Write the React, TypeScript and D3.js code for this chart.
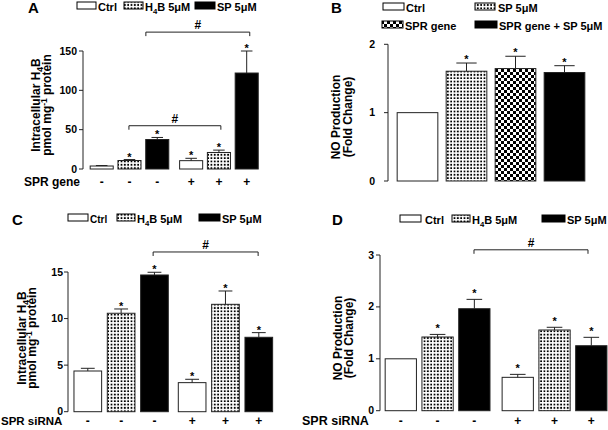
import React from "react";
import * as d3 from "d3";

const FONT = "'Liberation Sans', Arial, Helvetica, sans-serif";

// ---------- DATA ----------
// Panel A: intracellular H4B, SPR gene transfer
const aTreatments = ["Ctrl", "H4B", "SP", "Ctrl", "H4B", "SP"];
const aSprGene = ["-", "-", "-", "+", "+", "+"];
const aValues = [3.8, 10.8, 37.5, 10.6, 21, 122];
const aErrors = [0.6, 1.2, 2.6, 3, 3, 28];
const aStars = [false, true, true, true, true, true];
const aTicks = [0, 50, 100, 150];

// Panel B: NO production, SPR gene
const bTreatments = ["Ctrl", "SP", "SPRgene", "SPRgeneSP"];
const bValues = [1.0, 1.606, 1.645, 1.587];
const bErrors = [0, 0.12, 0.18, 0.1];
const bStars = [false, true, true, true];
const bTicks = [0, 1, 2];

// Panel C: intracellular H4B, SPR siRNA
const cTreatments = ["Ctrl", "H4B", "SP", "Ctrl", "H4B", "SP"];
const cSiRNA = ["-", "-", "-", "+", "+", "+"];
const cValues = [4.37, 10.57, 14.68, 3.12, 11.53, 7.99];
const cErrors = [0.29, 0.46, 0.29, 0.36, 1.43, 0.5];
const cStars = [false, true, true, true, true, true];
const cTicks = [0, 5, 10, 15];

// Panel D: NO production, SPR siRNA
const dTreatments = ["Ctrl", "H4B", "SP", "Ctrl", "H4B", "SP"];
const dSiRNA = ["-", "-", "-", "+", "+", "+"];
const dValues = [1.0, 1.42, 1.965, 0.643, 1.555, 1.252];
const dErrors = [0, 0.05, 0.18, 0.057, 0.052, 0.162];
const dStars = [false, true, true, true, true, true];
const dTicks = [0, 1, 2, 3];

// ---------- STYLE ----------
const FILL: Record<string, string> = {
  Ctrl: "#ffffff",
  SP: "url(#dots)",
  SPRgene: "url(#checker)",
  SPRgeneSP: "#000000",
};
const FILL6: Record<string, string> = {
  Ctrl: "#ffffff",
  H4B: "url(#dots)",
  SP: "#000000",
};

type Bracket = { from: number; to: number; y: number };
type LegendItem = { fill: string; x0: number; x1: number; y: number; label: React.ReactNode; tx: number; fs?: number };

type PanelProps = {
  letter: string;
  letterX: number;
  letterY: number;
  values: number[];
  errors: number[];
  stars: boolean[];
  fills: string[];
  signs?: string[];
  rowLabel?: string;
  rowLabelX?: number;
  rowLabelFs?: number;
  signY?: number;
  yDomain: [number, number];
  yRange: [number, number];
  ticks: number[];
  gap: number;
  xRange: [number, number];
  barFrac: number;
  axisX: number;
  tickGap: number;
  starGap: number;
  brackets: Bracket[];
  yLabel: React.ReactNode[];
  yLabelX: number[];
  yLabelY: number;
  legend: LegendItem[];
};

function Panel(p: PanelProps) {
  const n = p.values.length;
  const slot = (i: number) => i + (n > 4 && i >= 3 ? p.gap : 0);
  const x = d3.scaleLinear().domain([0, slot(n - 1)]).range(p.xRange);
  const y = d3.scaleLinear().domain(p.yDomain).range(p.yRange);
  const bw = p.barFrac * (x(1) - x(0));
  const cap = bw * 0.25;
  const stroke = "#222";
  return (
    <g>
      <text x={p.letterX} y={p.letterY} fontSize={15} fontWeight="bold">{p.letter}</text>
      {p.legend.map((l, i) => (
        <g key={i}>
          <rect x={l.x0} y={l.y} width={l.x1 - l.x0} height={7} fill={l.fill} stroke="#000" strokeWidth={1} />
          <text x={l.tx} y={l.y + 8.5} fontSize={l.fs ?? 11} fontWeight="bold">{l.label}</text>
        </g>
      ))}
      <line x1={p.axisX} x2={p.axisX} y1={y(p.yDomain[0])} y2={y(p.yDomain[1])} stroke={stroke} strokeWidth={1} />
      {p.ticks.map((t) => (
        <g key={t}>
          <line x1={p.axisX - 4} x2={p.axisX} y1={y(t)} y2={y(t)} stroke={stroke} strokeWidth={1} />
          <text x={p.axisX - p.tickGap} y={y(t) + 3.5} fontSize={10.5} fontWeight="bold" textAnchor="end">{t}</text>
        </g>
      ))}
      {p.yLabel.map((lab, i) => (
        <text key={i} transform={`translate(${p.yLabelX[i]},${p.yLabelY}) rotate(-90)`} fontSize={12} fontWeight="bold" textAnchor="middle">{lab}</text>
      ))}
      {p.values.map((v, i) => {
        const cx = x(slot(i));
        const top = y(v);
        const et = y(v + p.errors[i]);
        return (
          <g key={i}>
            <rect x={cx - bw / 2} y={top} width={bw} height={y(0) - top} fill={p.fills[i]} stroke={stroke} strokeWidth={1} />
            {p.errors[i] > 0 && (
              <g>
                <line x1={cx} x2={cx} y1={top} y2={et} stroke={stroke} strokeWidth={1} />
                <line x1={cx - cap} x2={cx + cap} y1={et} y2={et} stroke={stroke} strokeWidth={1} />
              </g>
            )}
            {p.stars[i] && (
              <text x={cx} y={et - p.starGap + 7} fontSize={11} fontWeight="bold" textAnchor="middle">*</text>
            )}
            {p.signs && (
              <text x={cx} y={p.signY} fontSize={12} fontWeight="bold" textAnchor="middle">{p.signs[i]}</text>
            )}
          </g>
        );
      })}
      {p.rowLabel && (
        <text x={p.rowLabelX} y={p.signY} fontSize={p.rowLabelFs ?? 12} fontWeight="bold">{p.rowLabel}</text>
      )}
      {p.brackets.map((b, i) => {
        const x1 = x(b.from);
        const x2 = x(b.to);
        const by = y(b.y);
        return (
          <g key={i}>
            <path d={`M${x1},${by + 4}V${by}H${x2}V${by + 4}`} fill="none" stroke={stroke} strokeWidth={1} />
            <text x={(x1 + x2) / 2} y={by - 3} fontSize={12} fontWeight="bold" textAnchor="middle">#</text>
          </g>
        );
      })}
    </g>
  );
}

const H4B5 = (fs: number) => (
  <>
    H<tspan dy={3} fontSize={fs * 0.7}>4</tspan>
    <tspan dy={-3}>B 5μM</tspan>
  </>
);

const H4Blabel = (
  <>
    Intracellular H<tspan dy={3} fontSize={8.5}>4</tspan>
    <tspan dy={-3}>B</tspan>
  </>
);
const pmolLabel = (
  <>
    pmol mg<tspan dy={-4} fontSize={8.5}>-1</tspan>
    <tspan dy={4}> protein</tspan>
  </>
);

export default function App() {
  return (
    <svg
      width={608}
      height={430}
      style={{ position: "absolute", left: 0, top: 0, background: "#fff" }}
      fontFamily={FONT}
    >
      <defs>
        <pattern id="dots" width={3.33} height={3.33} patternUnits="userSpaceOnUse">
          <rect width={3.33} height={3.33} fill="#fff" />
          <rect x={0.7} y={0.7} width={1.8} height={1.8} fill="#000" />
        </pattern>
        <pattern id="checker" width={6} height={6} patternUnits="userSpaceOnUse">
          <rect width={6} height={6} fill="#fff" />
          <rect width={3} height={3} fill="#000" />
          <rect x={3} y={3} width={3} height={3} fill="#000" />
        </pattern>
      </defs>
      <rect width={608} height={430} fill="#fff" />

      <Panel
        letter="A" letterX={28} letterY={13}
        values={aValues} errors={aErrors} stars={aStars}
        fills={aTreatments.map((t) => FILL6[t])}
        signs={aSprGene} rowLabel="SPR gene" rowLabelX={24} signY={186}
        yDomain={[0, 150]} yRange={[169, 51]} ticks={aTicks}
        gap={0.22} xRange={[101.7, 246.7]} barFrac={0.83}
        axisX={83} tickGap={6} starGap={6}
        brackets={[{ from: 1.59, to: 5.33, y: 174 }, { from: 0.98, to: 4.29, y: 55 }]}
        yLabel={[H4Blabel, pmolLabel]} yLabelX={[39.5, 50.5]} yLabelY={105}
        legend={[
          { fill: "#fff", x0: 77, x1: 96, y: 2, label: "Ctrl", tx: 98 },
          { fill: "url(#dots)", x0: 124, x1: 143, y: 2, label: H4B5(11), tx: 145 },
          { fill: "#000", x0: 195, x1: 215, y: 2, label: "SP 5μM", tx: 217 },
        ]}
      />

      <Panel
        letter="B" letterX={331} letterY={13}
        values={bValues} errors={bErrors} stars={bStars}
        fills={bTreatments.map((t) => FILL[t])}
        yDomain={[0, 2]} yRange={[181, 44.3]} ticks={bTicks}
        gap={0} xRange={[417.5, 564.5]} barFrac={0.83}
        axisX={388} tickGap={13} starGap={7}
        brackets={[]}
        yLabel={["NO Production", "(Fold Change)"]} yLabelX={[340, 352]} yLabelY={117}
        legend={[
          { fill: "#fff", x0: 383, x1: 404, y: 3, label: "Ctrl", tx: 406 },
          { fill: "url(#dots)", x0: 475, x1: 495, y: 3, label: "SP 5μM", tx: 498 },
          { fill: "url(#checker)", x0: 382, x1: 403, y: 21, label: "SPR gene", tx: 405 },
          { fill: "#000", x0: 475, x1: 497, y: 21, label: "SPR gene + SP 5μM", tx: 499 },
        ]}
      />

      <Panel
        letter="C" letterX={12} letterY={225}
        values={cValues} errors={cErrors} stars={cStars}
        fills={cTreatments.map((t) => FILL6[t])}
        signs={cSiRNA} rowLabel="SPR siRNA" rowLabelX={1} rowLabelFs={11.5} signY={424.5}
        yDomain={[0, 15]} yRange={[411.7, 272]} ticks={cTicks}
        gap={0.13} xRange={[87.8, 258.8]} barFrac={0.83}
        axisX={68} tickGap={5} starGap={6}
        brackets={[{ from: 1.96, to: 5.11, y: 17.15 }]}
        yLabel={[H4Blabel, pmolLabel]} yLabelX={[25.5, 36]} yLabelY={338}
        legend={[
          { fill: "#fff", x0: 68, x1: 88, y: 214, label: "Ctrl", tx: 90, fs: 10 },
          { fill: "url(#dots)", x0: 117, x1: 135, y: 214, label: H4B5(11), tx: 137 },
          { fill: "#000", x0: 199, x1: 220, y: 214, label: "SP 5μM", tx: 222 },
        ]}
      />

      <Panel
        letter="D" letterX={332} letterY={225}
        values={dValues} errors={dErrors} stars={dStars}
        fills={dTreatments.map((t) => FILL6[t])}
        signs={dSiRNA} rowLabel="SPR siRNA" rowLabelX={302} rowLabelFs={12.5} signY={424.5}
        yDomain={[0, 3]} yRange={[410.7, 255]} ticks={dTicks}
        gap={0.18} xRange={[400.8, 591.3]} barFrac={0.85}
        axisX={380} tickGap={6} starGap={9}
        brackets={[{ from: 1.99, to: 5.09, y: 3.1 }]}
        yLabel={["NO Production", "(Fold Change)"]} yLabelX={[342, 353]} yLabelY={338}
        legend={[
          { fill: "#fff", x0: 400, x1: 421, y: 215, label: "Ctrl", tx: 425 },
          { fill: "url(#dots)", x0: 452, x1: 470, y: 215, label: H4B5(11), tx: 472 },
          { fill: "#000", x0: 542, x1: 565, y: 215, label: "SP 5μM", tx: 567 },
        ]}
      />
    </svg>
  );
}
